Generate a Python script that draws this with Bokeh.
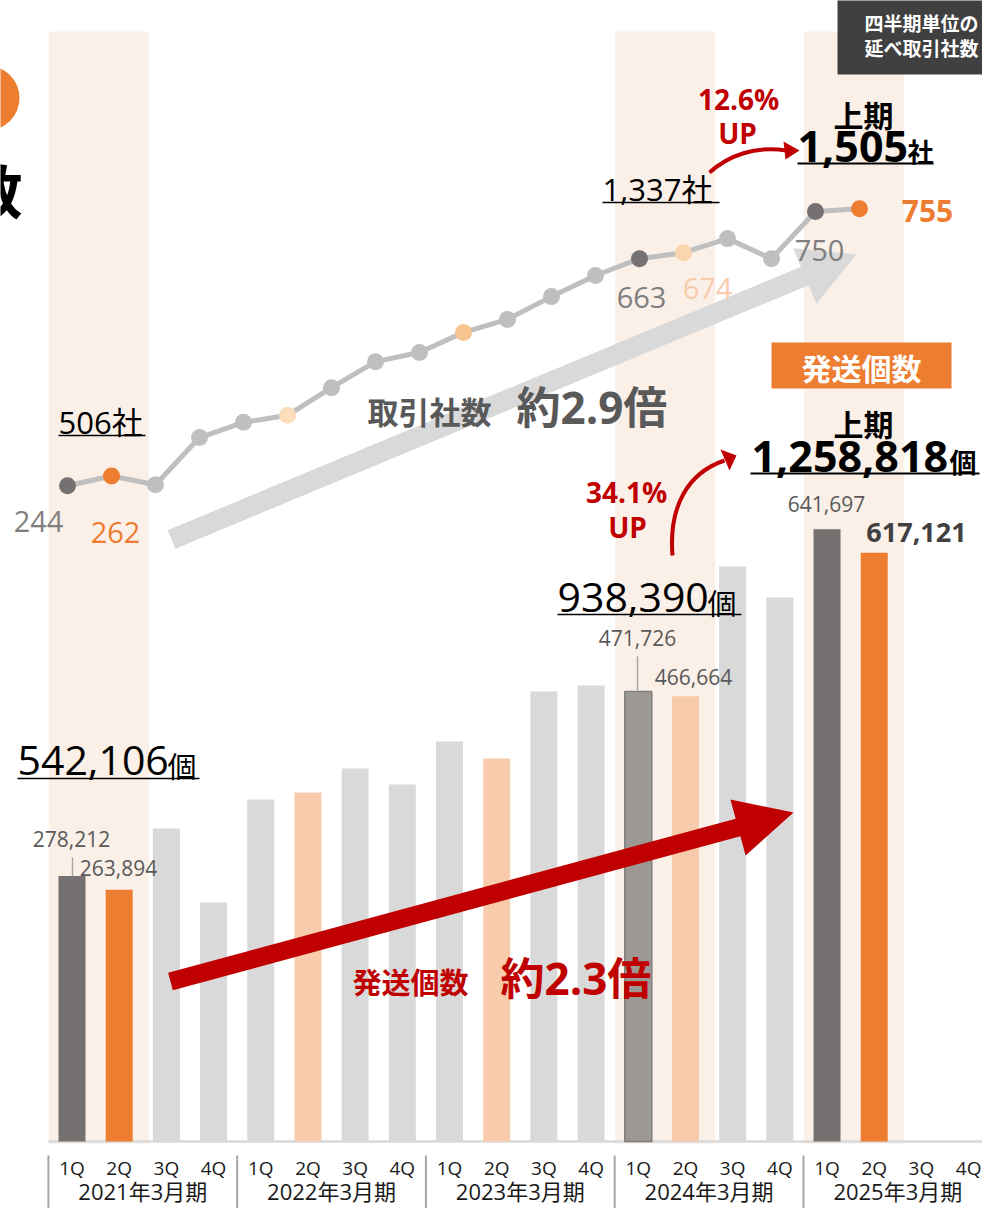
import numpy as np
from bokeh.plotting import figure
from bokeh.models import Range1d
from bokeh.core.properties import value
from bokeh.embed import file_html
from bokeh.resources import INLINE

# ---------------- data ----------------
quarters = ["1Q", "2Q", "3Q", "4Q"]
fiscal_years = ["2021年3月期", "2022年3月期", "2023年3月期", "2024年3月期", "2025年3月期"]
highlight_years = [0, 3, 4]          # fiscal years with shaded band (1Q-2Q)

# quarterly shipments (発送個数)
shipments = [278212, 263894, 328000, 250500, 358500, 365800, 391000, 374200,
             419300, 401500, 471700, 478000, 471726, 466664, 602700, 570200,
             641697, 617121]
bar_colors = ["#767171", "#ED7D31", "#D9D9D9", "#D9D9D9", "#D9D9D9", "#F8CBAD",
              "#D9D9D9", "#D9D9D9", "#D9D9D9", "#F8CBAD", "#D9D9D9", "#D9D9D9",
              "#9C9894", "#F8CBAD", "#D9D9D9", "#D9D9D9", "#767171", "#ED7D31"]
bar_outline = [0, 0, 0, 0, 0, 0, 0, 0, 0, 0, 0, 0, 1, 0, 0, 0, 0, 0]

# quarterly trading companies (取引社数)
companies = [244, 262, 246, 333, 361, 374, 425, 473, 490, 527, 551, 593, 632,
             663, 674, 700, 663, 750, 755]
point_colors = ["#767171", "#ED7D31", "#BFBFBF", "#BFBFBF", "#BFBFBF", "#FBDDBB",
                "#BFBFBF", "#BFBFBF", "#BFBFBF", "#F8C591", "#BFBFBF", "#BFBFBF",
                "#BFBFBF", "#767171", "#FAD6AE", "#BFBFBF", "#BFBFBF", "#767171",
                "#ED7D31"]

# ---------------- layout constants (pixels) ----------------
W, H = 982, 1208
BAR_X0, BAR_DX = 71.5, 47.19          # bar index -> px
BAR_BASE, BAR_K = 1141.0, 0.000954    # shipments -> px
LX0, LDX = 67.0, 44.0                 # line index -> px
LY_REF_PX, LY_REF_V, LY_K = 283.0, 617.2, 0.542

p = figure(width=W, height=H,
           x_range=Range1d((0 - BAR_X0) / BAR_DX, (W - BAR_X0) / BAR_DX),
           y_range=Range1d((BAR_BASE - H) / BAR_K, (BAR_BASE - 0) / BAR_K),
           x_axis_type=None, y_axis_type=None,
           output_backend="svg", toolbar_location=None, min_border=0)
p.extra_x_ranges = {"px": Range1d(0, W),
                    "lx": Range1d((0 - LX0) / LDX, (W - LX0) / LDX)}
p.extra_y_ranges = {"px": Range1d(H, 0),
                    "ly": Range1d(LY_REF_V + (LY_REF_PX - H) / LY_K,
                                  LY_REF_V + (LY_REF_PX - 0) / LY_K)}
p.outline_line_color = None
p.background_fill_color = "white"
p.border_fill_color = "white"

MIX = "Open Sans, Noto Sans CJK JP"
CJK = "Noto Sans CJK JP"
RED = "#C00000"
ORANGE = "#ED7D31"


def label(x, y, s, size, color, bold=False, align="left", font=MIX):
    p.text(x=[x], y=[y], text=[s], text_font=value(font),
           text_font_size=f"{size}px",
           text_font_style="bold" if bold else "normal",
           text_color=color, text_align=align, text_baseline="middle",
           x_range_name="px", y_range_name="px")


def uline(x0, x1, y, w=1.6, color="black"):
    p.segment(x0=[x0], x1=[x1], y0=[y], y1=[y], line_color=color, line_width=w,
              x_range_name="px", y_range_name="px")


def arrow_patch(x0, y0, x1, y1, shaft, head_len, head_w, color):
    d = np.array([x1 - x0, y1 - y0], float)
    d /= np.hypot(*d)
    n = np.array([-d[1], d[0]])
    s = np.array([x0, y0], float)
    t = np.array([x1, y1], float)
    b = t - d * head_len
    pts = [s + n * shaft / 2, b + n * shaft / 2, b + n * head_w, t,
           b - n * head_w, b - n * shaft / 2, s - n * shaft / 2]
    p.patch([q[0] for q in pts], [q[1] for q in pts], fill_color=color,
            line_color=None, x_range_name="px", y_range_name="px")


# ---------------- shaded bands ----------------
band_l = [4 * k - 0.49 for k in highlight_years]
band_r = [4 * k + 1.63 for k in highlight_years]
band_top = (BAR_BASE - 31) / BAR_K
band_bot = (BAR_BASE - 1143) / BAR_K
p.quad(left=band_l, right=band_r, top=band_top, bottom=band_bot,
       fill_color="#FBF0E8", line_color=None)

# top-right dark box
p.quad(left=[837], right=[1000], top=[-5], bottom=[74], fill_color="#404040",
       line_color=None, x_range_name="px", y_range_name="px")
label(864, 22, "四半期単位の", 19, "white", bold=True, font=CJK)
label(864, 47, "延べ取引社数", 19, "white", bold=True, font=CJK)

# top-left fragments of the page title
p.circle(x=[-13.5], y=[97.5], radius=32.5, fill_color=ORANGE, line_color=None,
         x_range_name="px", y_range_name="px")
label(22, 188, "数", 58, "black", bold=True, align="right", font=CJK)

# ---------------- bars ----------------
xs = list(range(len(shipments)))
p.segment(x0=[-0.5], x1=[20], y0=[0], y1=[0], line_color="#D9D9D9", line_width=2.5)
p.vbar(x=xs, top=shipments, bottom=0, width=0.572, fill_color=bar_colors,
       line_color="#7F7F7F", line_alpha=bar_outline, line_width=1.5)

# bottom axis labels
qx = list(range(20))
p.text(x=qx, y=[1167] * 20, text=[quarters[i % 4] for i in qx],
       text_font=value(MIX), text_font_size="19px", text_color="#1A1A1A",
       text_align="center", text_baseline="middle", y_range_name="px")
p.text(x=[4 * k + 1.5 for k in range(5)], y=[1190] * 5, text=fiscal_years,
       text_font=value(MIX), text_font_size="22px", text_color="#1A1A1A",
       text_align="center", text_baseline="middle", y_range_name="px")
p.segment(x0=[4 * k - 0.5 for k in range(5)], x1=[4 * k - 0.5 for k in range(5)],
          y0=[1155] * 5, y1=[1215] * 5, line_color="#A6A6A6", line_width=2,
          y_range_name="px")

# red trend arrow for shipments
arrow_patch(170, 981, 793, 812, 18, 57.5, 29, RED)
label(352, 980, "発送個数", 29, RED, bold=True, font=CJK)
label(500, 977, "約2.3倍", 44, RED, bold=True)

# bar value labels
label(71, 838, "278,212", 21, "#595959", align="center")
p.segment(x0=[72], x1=[72], y0=[857], y1=[876], line_color="#A6A6A6",
          line_width=1.5, x_range_name="px", y_range_name="px")
label(118, 867, "263,894", 21, "#595959", align="center")
label(637, 637, "471,726", 21, "#595959", align="center")
p.segment(x0=[637], x1=[637], y0=[656], y1=[690], line_color="#A6A6A6",
          line_width=1.5, x_range_name="px", y_range_name="px")
label(693, 676, "466,664", 21, "#595959", align="center")
label(826, 503, "641,697", 21, "#595959", align="center")
label(916, 532, "617,121", 27, "#404040", bold=True, align="center")

# half-year totals (shipments)
label(17, 760, "542,106", 41, "black")
label(167, 764, "個", 29, "black", font=CJK)
uline(17, 199, 778)
label(557, 597, "938,390", 41, "black")
label(707, 601, "個", 29, "black", font=CJK)
uline(557, 741, 614)

# shipments header box
p.quad(left=[771], right=[951], top=[342], bottom=[388], fill_color=ORANGE,
       line_color=None, x_range_name="px", y_range_name="px")
label(861, 366, "発送個数", 30, "white", bold=True, align="center", font=CJK)
label(863, 422, "上期", 30, "black", bold=True, align="center", font=CJK)
label(751, 456, "1,258,818", 43, "black", bold=True)
label(949, 461, "個", 27, "black", bold=True, font=CJK)
uline(750, 979, 473, 2.2)

# 34.1% UP curved arrow
label(626, 491, "34.1%", 28, RED, bold=True, align="center")
label(627, 526, "UP", 28, RED, bold=True, align="center")
p.bezier(x0=[672], y0=[555], x1=[724], y1=[460], cx0=[668], cy0=[505],
         cx1=[688], cy1=[472], line_color=RED, line_width=4,
         x_range_name="px", y_range_name="px")
p.patch([736, 720, 729], [455, 449, 470], fill_color=RED, line_color=None,
        x_range_name="px", y_range_name="px")

# ---------------- companies line ----------------
arrow_patch(171, 539, 856, 254, 20, 56, 30, "#D9D9D9")
label(367, 410, "取引社数", 31, "#595959", bold=True, font=CJK)
label(516, 406, "約2.9倍", 44, "#595959", bold=True)

lx = list(range(len(companies)))
p.line(x=lx, y=companies, line_color="#BFBFBF", line_width=5,
       x_range_name="lx", y_range_name="ly")
p.scatter(x=lx, y=companies, size=17, fill_color=point_colors, line_color=None,
          x_range_name="lx", y_range_name="ly")

label(38, 521, "244", 29, "#7F7F7F", align="center")
label(115, 532, "262", 29, ORANGE, align="center")
label(641, 297, "663", 29, "#7F7F7F", align="center")
label(707, 288, "674", 29, "#F8CBAD", align="center")
label(819, 250, "750", 29, "#7F7F7F", align="center")
label(927, 210, "755", 30, ORANGE, bold=True, align="center")

# half-year totals (companies)
label(58, 421, "506社", 31, "black")
uline(58, 145, 435)
label(602, 188, "1,337社", 31, "black")
uline(602, 719, 202)
label(863, 113, "上期", 30, "black", bold=True, align="center", font=CJK)
label(797, 146, "1,505", 43, "black", bold=True)
label(907, 150, "社", 26, "black", bold=True, font=CJK)
uline(797, 933, 163, 2.2)

# 12.6% UP curved arrow
label(738, 98, "12.6%", 28, RED, bold=True, align="center")
label(737, 132, "UP", 28, RED, bold=True, align="center")
p.bezier(x0=[709], y0=[172], x1=[786], y1=[150], cx0=[728], cy0=[155],
         cx1=[755], cy1=[145], line_color=RED, line_width=4,
         x_range_name="px", y_range_name="px")
p.patch([799, 783, 785], [150, 141, 159], fill_color=RED, line_color=None,
        x_range_name="px", y_range_name="px")

open("out.html", "w").write(file_html(p, INLINE))
